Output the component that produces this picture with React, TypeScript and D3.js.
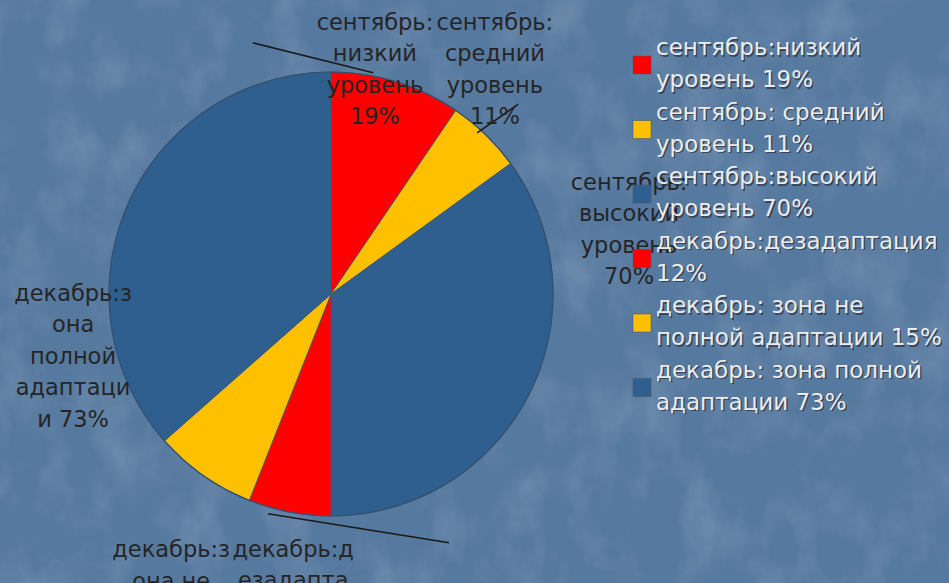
import React from 'react';
import * as d3 from 'd3';

// slice data (clockwise from 12 o'clock)
const sliceNames = [
  'сентябрь:низкий уровень',
  'сентябрь: средний уровень',
  'сентябрь:высокий уровень',
  'декабрь:дезадаптация',
  'декабрь: зона не полной адаптации',
  'декабрь: зона полной адаптации',
];
const sliceValues = [19, 11, 70, 12, 15, 73];
const sliceColors = ['#ff0000', '#ffc000', '#2e5f8f', '#ff0000', '#ffc000', '#2e5f8f'];

// legend lines as shown in the picture
const legendLines = [
  ['сентябрь:низкий', 'уровень 19%'],
  ['сентябрь: средний', 'уровень 11%'],
  ['сентябрь:высокий', 'уровень 70%'],
  ['декабрь:дезадаптация', '12%'],
  ['декабрь: зона не', 'полной адаптации 15%'],
  ['декабрь: зона полной', 'адаптации 73%'],
];

// data labels, wrapped like the original
const labelLines = [
  ['сентябрь:', 'низкий', 'уровень', '19%'],
  ['сентябрь:', 'средний', 'уровень', '11%'],
  ['сентябрь:', 'высокий', 'уровень', '70%'],
  ['декабрь:д', 'езадапта', 'ция 12%'],
  ['декабрь:з', 'она не', 'полной', 'адаптаци', 'и 15%'],
  ['декабрь:з', 'она', 'полной', 'адаптаци', 'и 73%'],
];
// label anchor: angle (deg, clockwise from top) and distance in radii
const labelPos = [
  [11.1, 1.028],
  [36.2, 1.25],
  [77.9, 1.373],
  [187.5, 1.306],
  [206.6, 1.608],
  [256.3, 1.196],
];

// leader lines: [angle, radius] pairs for both ends
const leaders = [
  [[-17.3, 1.185], [10.8, 1.015]],
  [[42.2, 0.98], [44.6, 1.2]],
  [[196, 1.03], [154.6, 1.24]],
];

const W = 949;
const H = 583;
const cx = 331;
const cy = 294;
const R = 222;

const toXY = (deg: number, r: number) => {
  const a = (deg * Math.PI) / 180;
  return [cx + Math.sin(a) * r * R, cy - Math.cos(a) * r * R];
};

const App: React.FC = () => {
  const pie = d3.pie<number>().sort(null).value(d => d);
  const arcs = pie(sliceValues);
  const arc = d3.arc<d3.PieArcDatum<number>>().innerRadius(0).outerRadius(R);

  const lineH = 32;
  const labelH = 31.5;
  const font = '"DejaVu Sans", Verdana, sans-serif';

  return (
    <svg width={W} height={H} style={{ position: 'absolute', left: 0, top: 0 }} fontFamily={font}>
      <defs>
        <filter id="marble" x="0" y="0" width="100%" height="100%">
          <feTurbulence type="fractalNoise" baseFrequency="0.022 0.016" numOctaves={5} seed={11} result="n" />
          <feColorMatrix
            in="n"
            type="matrix"
            values="0 0 0 0 1  0 0 0 0 1  0 0 0 0 1  0 0 0 1.4 -0.6"
          />
        </filter>
        <clipPath id="clipAll">
          <rect width={W} height={H} />
        </clipPath>
      </defs>

      <rect width={W} height={H} fill="#56799f" />
      <rect width={W} height={H} fill="#ffffff" filter="url(#marble)" opacity={0.2} />

      <g clipPath="url(#clipAll)">
        <g transform={`translate(${cx},${cy})`}>
          {arcs.map((a, i) => (
            <path key={sliceNames[i]} d={arc(a) || ''} fill={sliceColors[i]} stroke="#3b587a" strokeWidth={0.8} />
          ))}
          <circle r={R} fill="none" stroke="#34506f" strokeWidth={1.2} />
        </g>

        {leaders.map((l, i) => {
          const [x1, y1] = toXY(l[0][0], l[0][1]);
          const [x2, y2] = toXY(l[1][0], l[1][1]);
          return <line key={i} x1={x1} y1={y1} x2={x2} y2={y2} stroke="#1a1a1a" strokeWidth={1.6} />;
        })}

        {labelLines.map((lines, i) => {
          const [x, y] = toXY(labelPos[i][0], labelPos[i][1]);
          const n = lines.length;
          return (
            <text key={i} x={x} y={y} textAnchor="middle" fontSize={22.5} fill="#252525">
              {lines.map((t, j) => (
                <tspan key={j} x={x} y={y + (j - (n - 1) / 2) * labelH + 7}>
                  {t}
                </tspan>
              ))}
            </text>
          );
        })}

        {legendLines.map((lines, i) => {
          const top = 49 + i * 64.5;
          return (
            <g key={i}>
              <rect x={633} y={top + 7} width={18} height={18} fill={sliceColors[i]} stroke="#4a5a6a" strokeWidth={0.6} />
              {lines.map((t, j) => (
                <g key={j}>
                  <text x={657.5} y={top + j * lineH + 7.5} fontSize={23} fill="#2a3344" opacity={0.75}>
                    {t}
                  </text>
                  <text x={656} y={top + j * lineH + 6} fontSize={23} fill="#ececec">
                    {t}
                  </text>
                </g>
              ))}
            </g>
          );
        })}
      </g>
    </svg>
  );
};

export default App;
